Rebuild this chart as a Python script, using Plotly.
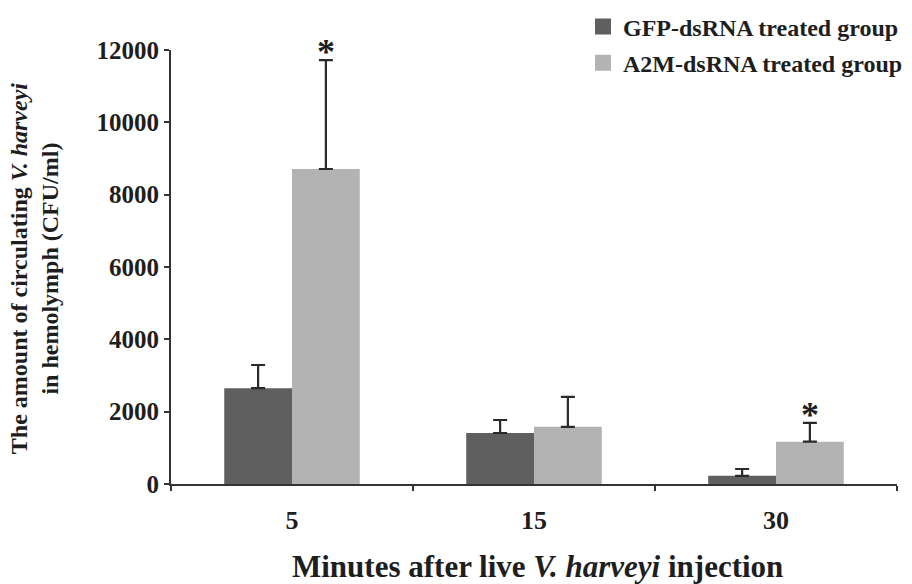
import plotly.graph_objects as go

categories = ["5", "15", "30"]
gfp_values = [2650, 1410, 225]
gfp_errors = [640, 360, 190]
a2m_values = [8710, 1580, 1170]
a2m_errors = [3010, 830, 520]
significant = [True, False, True]
series_names = ["GFP-dsRNA treated group", "A2M-dsRNA treated group"]
y_ticks = [0, 2000, 4000, 6000, 8000, 10000, 12000]

FONT = "Liberation Serif"
DARK = "#5f5f5f"
LIGHT = "#b3b3b3"
INK = "#1e1e1e"

fig = go.Figure()
for name, vals, errs, col in [(series_names[0], gfp_values, gfp_errors, DARK),
                              (series_names[1], a2m_values, a2m_errors, LIGHT)]:
    fig.add_trace(go.Bar(
        x=categories, y=vals, name=name, marker_color=col, marker_line_width=0,
        showlegend=False,
        error_y=dict(type="data", symmetric=False, array=errs,
                     arrayminus=[0] * len(errs), color="#2a2a2a", thickness=2.2, width=7)))

# legend entries with large square swatches
for k, (name, col) in enumerate([(series_names[0], DARK), (series_names[1], LIGHT)]):
    fig.add_trace(go.Scatter(
        x=[None], y=[None], mode="markers", name=name, legendgroup=str(k),
        marker=dict(symbol="square", size=31, color=col, line=dict(width=0))))

# significance asterisks above the A2M bars
for i, (v, e, s) in enumerate(zip(a2m_values, a2m_errors, significant)):
    if s:
        fig.add_annotation(x=i, y=v + e, xref="x", yref="y", text="*", showarrow=False,
                           xshift=34, yanchor="bottom", yshift=-14,
                           font=dict(family=FONT, size=36, color=INK, weight="bold"))

fig.add_annotation(
    text="The amount of circulating <i>V. harveyi</i><br>in hemolymph (CFU/ml)",
    xref="paper", yref="paper", x=(34 - 171) / 726, y=0.495, textangle=-90,
    showarrow=False, font=dict(family=FONT, size=24, color=INK, weight="bold"),
    xanchor="center", yanchor="middle")

fig.add_annotation(
    text="Minutes after live <i>V. harveyi</i> injection",
    xref="paper", yref="paper", x=(537 - 171) / 726, y=(484 - 566) / 434,
    showarrow=False, font=dict(family=FONT, size=31, color=INK, weight="bold"),
    xanchor="center", yanchor="middle")

fig.update_layout(
    width=912, height=584,
    margin=dict(l=171, r=15, t=50, b=100, autoexpand=False),
    paper_bgcolor="white", plot_bgcolor="white",
    barmode="group", bargap=0.44, bargroupgap=0,
    font=dict(family=FONT, color=INK),
    showlegend=True,
    legend=dict(x=(583 - 171) / 726, xanchor="left", y=1.105, yanchor="top",
                font=dict(family=FONT, size=24, color=INK, weight="bold"),
                itemsizing="trace", tracegroupgap=2, bgcolor="rgba(0,0,0,0)"),
    xaxis=dict(
        type="category", range=[-0.5, 2.5], showline=True, linecolor="#333", linewidth=2,
        ticks="outside", tickson="boundaries", ticklen=5, tickcolor="#333", tickwidth=2,
        tickfont=dict(family=FONT, size=26, color=INK, weight="bold"), tickangle=0,
        ticklabelstandoff=12, showgrid=False),
    yaxis=dict(
        range=[0, 12000], tickvals=y_ticks, tickformat="d", showline=True,
        linecolor="#333", linewidth=2,
        ticks="outside", ticklen=5, tickcolor="#333", tickwidth=2,
        tickfont=dict(family=FONT, size=25, color=INK, weight="bold"),
        showgrid=False, zeroline=False),
)

fig.write_html("out.html")
